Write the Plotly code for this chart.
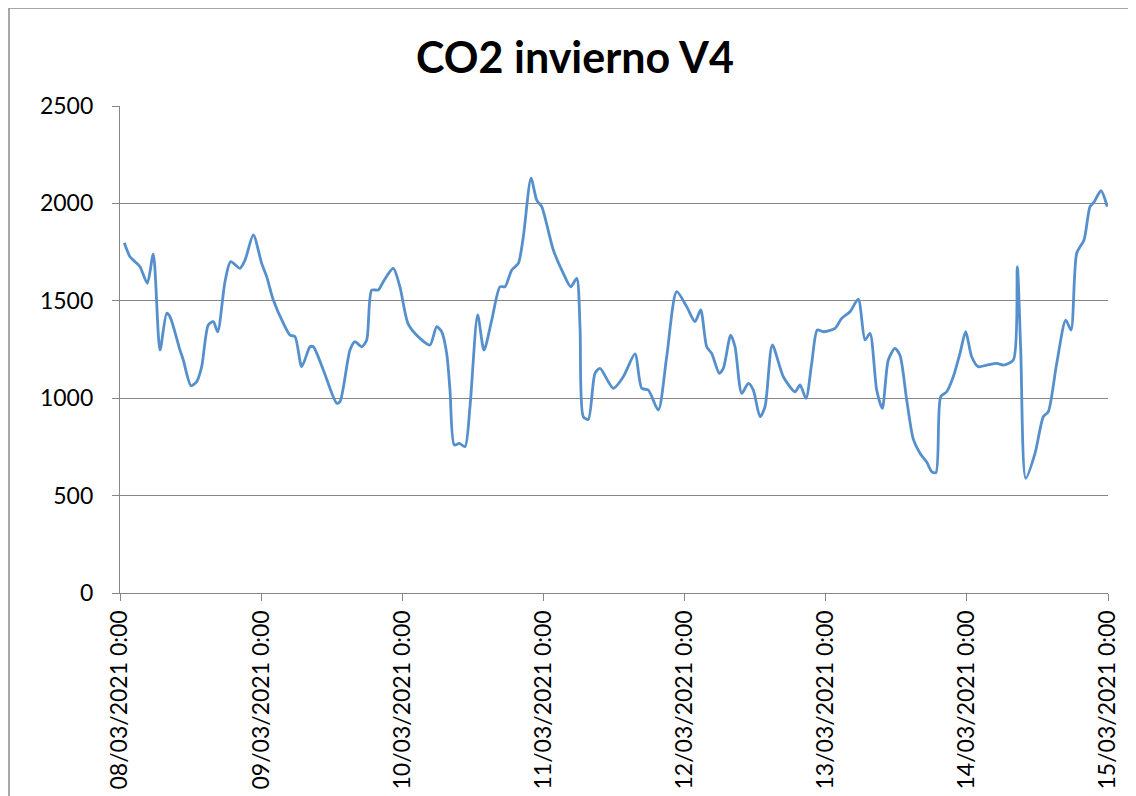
import pandas as pd
import plotly.graph_objects as go

title_text = "CO2 invierno V4"

# hours elapsed since 08/03/2021 0:00
hours = [0.73, 1.70, 2.55, 3.40, 4.64, 5.66, 6.80, 7.94, 8.50, 10.20, 10.76, 12.07, 13.04, 13.89,
         15.01, 15.86, 16.61, 17.85, 18.82, 20.40, 21.26, 22.67, 24.09, 24.94, 26.07, 27.77,
         28.91, 29.76, 30.90, 32.31, 32.87, 34.57, 36.85, 37.41, 39.11, 39.96, 41.10, 41.95,
         42.80, 43.92, 44.77, 46.47, 47.61, 49.02, 51.01, 52.71, 53.85, 54.70, 55.55, 56.11,
         56.84, 57.70, 58.66, 59.51, 60.82, 61.89, 63.21, 64.62, 65.47, 66.61, 67.73, 68.58,
         69.89, 70.86, 71.71, 73.68, 75.38, 76.64, 77.66, 78.22, 78.78, 79.63, 80.77, 81.62,
         83.88, 85.58, 87.57, 88.71, 89.83, 91.53, 92.96, 94.66, 96.36, 97.77, 98.74, 99.76,
         100.61, 101.91, 102.59, 103.84, 104.58, 105.72, 106.84, 107.69, 108.83, 109.68,
         110.92, 112.79, 114.78, 115.63, 116.65, 117.62, 118.57, 119.59, 121.58, 122.72,
         124.13, 125.54, 126.68, 127.53, 128.67, 129.62, 130.64, 131.78, 132.63, 133.77,
         134.89, 136.03, 137.17, 138.02, 138.75, 139.55, 140.57, 141.69, 142.83, 143.80,
         144.82, 145.94, 147.37, 149.07, 150.20, 151.90, 152.58, 153.16, 154.01, 155.59,
         157.00, 157.85, 159.28, 160.81, 161.71, 162.68, 163.92, 164.94, 165.67, 166.81, 167.88]

co2 = [1798, 1726, 1701, 1675, 1590, 1740, 1247, 1436, 1418, 1247, 1196, 1064, 1085, 1162,
       1376, 1393, 1341, 1598, 1701, 1667, 1709, 1838, 1692, 1624, 1504, 1385,
       1324, 1316, 1162, 1264, 1264, 1145, 974, 982, 1247, 1290, 1264, 1299,
       1555, 1555, 1598, 1667, 1570, 1380, 1307, 1273, 1367, 1341, 1230, 1042,
       760, 768, 751, 956, 1427, 1247, 1401, 1572, 1572, 1658, 1692, 1829,
       2129, 2017, 1983, 1761, 1641, 1572, 1615, 1367, 905, 891, 1128, 1153,
       1051, 1110, 1227, 1051, 1042, 939, 1213, 1547, 1470, 1393, 1453, 1264,
       1230, 1128, 1153, 1324, 1264, 1025, 1076, 1042, 905, 956,
       1273, 1110, 1033, 1068, 999, 1179, 1350, 1341, 1359, 1410,
       1444, 1508, 1299, 1333, 1042, 948, 1196, 1256, 1220, 991,
       790, 717, 672, 623, 618, 1008, 1033, 1110, 1230, 1341,
       1213, 1162, 1170, 1179, 1170, 1196, 1675, 1247, 589, 717,
       905, 931, 1179, 1401, 1350, 1744, 1812, 1983, 2009, 2065, 1983]

start = "2021-03-08 00:00"
tick_dates = ["2021-03-08", "2021-03-09", "2021-03-10", "2021-03-11",
              "2021-03-12", "2021-03-13", "2021-03-14", "2021-03-15"]
tick_labels = ["08/03/2021 0:00", "09/03/2021 0:00", "10/03/2021 0:00", "11/03/2021 0:00",
               "12/03/2021 0:00", "13/03/2021 0:00", "14/03/2021 0:00", "15/03/2021 0:00"]
y_ticks = [0, 500, 1000, 1500, 2000, 2500]

times = pd.Timestamp(start) + pd.to_timedelta(hours, unit="h")

fig = go.Figure()
fig.add_trace(go.Scatter(
    x=times, y=co2, mode="lines",
    line=dict(color="#5590CC", width=2.8, shape="spline", smoothing=0.7),
    hoverinfo="skip", showlegend=False,
))

# page body has an 8px margin, so figure coords = screen coords - 8
W, H = 1128, 788
L, R, T, B = 112, 1100, 98, 585
fig.update_layout(
    width=W, height=H,
    margin=dict(l=L, r=W - R, t=T, b=H - B, autoexpand=False),
    paper_bgcolor="white", plot_bgcolor="white",
    font=dict(family="Lato, Calibri, sans-serif", color="#000000"),
    title=dict(text="<b>" + title_text + "</b>", x=567 / W, xanchor="center",
               y=1 - 50 / H, yanchor="middle", yref="container",
               font=dict(size=43, family="Lato, Calibri, sans-serif", color="#000000")),
    xaxis=dict(
        type="date",
        range=[tick_dates[0], tick_dates[-1]],
        tickmode="array", tickvals=tick_dates, ticktext=tick_labels,
        tickangle=-90, tickfont=dict(size=23, color="#000000"),
        showgrid=False, zeroline=False,
        showline=True, linecolor="#868686", linewidth=1.3,
        ticks="outside", ticklen=7, tickcolor="#868686", tickwidth=1.3,
    ),
    yaxis=dict(
        range=[0, 2500],
        tickmode="array", tickvals=y_ticks,
        tickfont=dict(size=23, color="#000000"),
        showgrid=True, gridcolor="#868686", gridwidth=1.3,
        zeroline=False,
        showline=True, linecolor="#868686", linewidth=1.3,
        ticks="outside", ticklen=7, tickcolor="#868686", tickwidth=1.3,
        ticklabelstandoff=14,
    ),
)

# outer chart border (Excel chart-area frame) along the top and left figure edges
fig.add_shape(type="rect", xref="paper", yref="paper",
              x0=(1 - L) / (R - L), x1=(W + 10 - L) / (R - L),
              y0=(B - (H + 10)) / (B - T), y1=(B - 0) / (B - T),
              line=dict(color="#8c8c8c", width=1.5), fillcolor="rgba(0,0,0,0)",
              layer="below")

fig.write_html("out.html")
